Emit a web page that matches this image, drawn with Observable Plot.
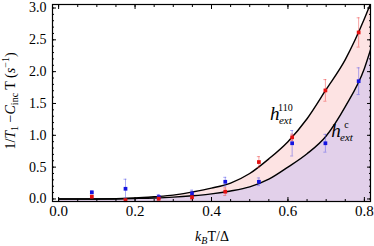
<!DOCTYPE html>
<html><head><meta charset="utf-8">
<script src="https://cdn.jsdelivr.net/npm/d3@7"></script>
<script src="https://cdn.jsdelivr.net/npm/@observablehq/plot@0.6"></script>
<style>body{margin:0;background:#fff} svg{display:block} svg text{font-family:'Liberation Serif',serif}</style>
</head><body><div id="chart"></div>
<script>
// fitted curves
const curveX = [0, 0.1, 0.2, 0.25, 0.3, 0.35, 0.4, 0.45, 0.5, 0.55, 0.6, 0.65, 0.7, 0.75, 0.8, 0.82];
const upperY = [0, 0, 0.015, 0.035, 0.06, 0.11, 0.17, 0.25, 0.40, 0.63, 0.90, 1.26, 1.72, 2.19, 2.83, 3.13];
const lowerY = [0, 0, 0.008, 0.015, 0.028, 0.05, 0.08, 0.125, 0.19, 0.31, 0.50, 0.71, 0.99, 1.45, 2.05, 2.42];
// measured points
const pointX = [0.087, 0.175, 0.262, 0.349, 0.436, 0.524, 0.611, 0.698, 0.785];
const redY = [0.036, -0.02, 0.005, 0.026, 0.114, 0.58, 0.968, 1.705, 2.616];
const redErr = [0.02, 0.02, 0.03, 0.04, 0.06, 0.085, 0.05, 0.17, 0.23];
const blueY = [0.104, 0.16, 0.03, 0.088, 0.27, 0.27, 0.875, 0.875, 1.85];
const blueErr = [0.02, 0.15, 0.04, 0.05, 0.07, 0.06, 0.2, 0.14, 0.21];
// ticks
const xTicks = [0, 0.2, 0.4, 0.6, 0.8];
const yTicks = [0, 0.5, 1, 1.5, 2, 2.5, 3];
const xMinor = d3.range(0, 0.8001, 0.05);
const yMinor = d3.range(0, 3.0001, 0.1);
const xDomain = [-0.016, 0.816];
const yDomain = [-0.04, 3.055];
// annotations
const labels = [
  {x: 0.567, y: 1.228, sup: "110", sub: "ext"},
  {x: 0.727, y: 0.964, sup: "c", sub: "ext"}
];

const curve = curveX.map((x, i) => ({x, up: upperY[i], lo: lowerY[i]}));
const red = pointX.map((x, i) => ({x, y: redY[i], e: redErr[i]}));
const blue = pointX.map((x, i) => ({x, y: blueY[i], e: blueErr[i]}));

const F = "'Liberation Serif', serif";
const RED = "#e41010", BLUE = "#1414e0";
const capW = 0.004;
const errMarks = (data, color, op) => [
  Plot.ruleX(data, {x: "x", y1: d => d.y - d.e, y2: d => d.y + d.e, stroke: color, strokeOpacity: op, strokeWidth: 1}),
  Plot.ruleY(data, {y: d => d.y - d.e, x1: d => d.x - capW, x2: d => d.x + capW, stroke: color, strokeOpacity: op, strokeWidth: 1}),
  Plot.ruleY(data, {y: d => d.y + d.e, x1: d => d.x - capW, x2: d => d.x + capW, stroke: color, strokeOpacity: op, strokeWidth: 1})
];

const plot = Plot.plot({
  width: 374, height: 246,
  marginLeft: 52, marginRight: 4, marginTop: 4, marginBottom: 45,
  x: {domain: xDomain, axis: null},
  y: {domain: yDomain, axis: null},
  style: {fontFamily: F, fontSize: "14px", color: "black", background: "white"},
  marks: [
    Plot.areaY(curve, {x: "x", y1: yDomain[0], y2: "lo", fill: "#e2d0ea", curve: "monotone-x", clip: true}),
    Plot.areaY(curve, {x: "x", y1: "lo", y2: "up", fill: "#fde3e3", curve: "monotone-x", clip: true}),
    Plot.line(curve, {x: "x", y: "up", stroke: "black", strokeWidth: 1.4, curve: "monotone-x", clip: true}),
    Plot.line(curve, {x: "x", y: "lo", stroke: "black", strokeWidth: 1.4, curve: "monotone-x", clip: true}),
    ...errMarks(blue, "#4a4ae8", 0.45),
    ...errMarks(red, "#ee3030", 0.45),
    Plot.dot(blue, {x: "x", y: "y", symbol: "square", r: 2.1, fill: BLUE}),
    Plot.dot(red, {x: "x", y: "y", symbol: "square", r: 2.1, fill: RED}),
    Plot.frame({stroke: "black", strokeWidth: 1.2}),
    Plot.axisX(xTicks, {anchor: "bottom", tickSize: -4, tickFormat: () => "", label: null}),
    Plot.axisX(xMinor, {anchor: "bottom", tickSize: -2, tickFormat: () => "", label: null}),
    Plot.axisX(xTicks, {anchor: "top", tickSize: -4, tickFormat: () => "", label: null}),
    Plot.axisX(xMinor, {anchor: "top", tickSize: -2, tickFormat: () => "", label: null}),
    Plot.axisX(xTicks, {anchor: "bottom", tickSize: 0, tickPadding: 4, tickFormat: d3.format(".1f"), label: null, fontSize: 15, fontFamily: F}),
    Plot.axisY(yTicks, {anchor: "left", tickSize: -4, tickFormat: () => "", label: null}),
    Plot.axisY(yMinor, {anchor: "left", tickSize: -2, tickFormat: () => "", label: null}),
    Plot.axisY(yTicks, {anchor: "right", tickSize: -4, tickFormat: () => "", label: null}),
    Plot.axisY(yMinor, {anchor: "right", tickSize: -2, tickFormat: () => "", label: null}),
    Plot.axisY(yTicks, {anchor: "left", tickSize: 0, tickPadding: 6, tickFormat: d3.format(".1f"), label: null, fontSize: 14, fontFamily: F})
  ]
});
document.getElementById("chart").appendChild(plot);

const svg = d3.select(plot);
const sx = plot.scale("x"), sy = plot.scale("y");

// y axis label
const yl = svg.append("text").attr("transform", "translate(15,101) rotate(-90)")
  .attr("text-anchor", "middle").attr("font-family", F).attr("font-size", 14).attr("fill", "black");
yl.append("tspan").text("1/");
yl.append("tspan").attr("font-style", "italic").text("T");
yl.append("tspan").attr("font-size", 10).attr("dy", 3).text("1");
yl.append("tspan").attr("dy", -3).text(" \u2212");
yl.append("tspan").attr("font-style", "italic").text("C");
yl.append("tspan").attr("font-size", 10).attr("dy", 3).text("inc");
yl.append("tspan").attr("dy", -3).text(" T (");
yl.append("tspan").attr("font-style", "italic").text("s");
yl.append("tspan").attr("font-size", 10).attr("dy", -6).text("\u22121");
yl.append("tspan").attr("dy", 6).text(")");

// x axis label
const xl = svg.append("text").attr("x", 212).attr("y", 241)
  .attr("text-anchor", "middle").attr("font-family", F).attr("font-size", 14).attr("fill", "black");
xl.append("tspan").attr("font-style", "italic").text("k");
xl.append("tspan").attr("font-style", "italic").attr("font-size", 10).attr("dy", 3).text("B");
xl.append("tspan").attr("dy", -3).text("T/\u0394");

// curve annotations
for (const L of labels) {
  const px = sx.apply(L.x), py = sy.apply(L.y);
  const h = svg.append("text").attr("x", px).attr("y", py).attr("font-family", F)
    .attr("font-style", "italic").attr("font-size", 19).attr("fill", "black").text("h");
  const w = Math.max(9, h.node().getComputedTextLength());
  svg.append("text").attr("x", px + w + 1).attr("y", py - 9).attr("font-family", F)
    .attr("font-size", 10).attr("fill", "black").text(L.sup);
  svg.append("text").attr("x", px + w + 1).attr("y", py + 4).attr("font-family", F)
    .attr("font-style", "italic").attr("font-size", 11).attr("fill", "black").text(L.sub);
}
</script>
</body></html>
